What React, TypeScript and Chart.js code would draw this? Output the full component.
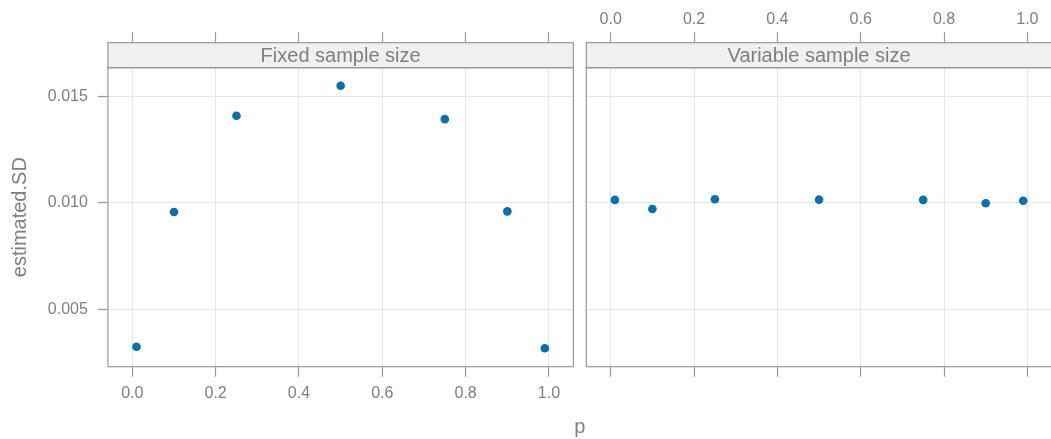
import React, { useEffect, useRef } from 'react';
import { Chart, registerables } from 'chart.js';

Chart.register(...registerables);

// ---- data ----
const pValues = [0.01, 0.1, 0.25, 0.5, 0.75, 0.9, 0.99];
const fixedSD = [0.00323, 0.00957, 0.0141, 0.01551, 0.01394, 0.0096, 0.00316];
const variableSD = [0.01014, 0.00971, 0.01017, 0.01015, 0.01014, 0.00998, 0.0101];
const panelTitles = ['Fixed sample size', 'Variable sample size'];
const xTickValues = [0, 0.2, 0.4, 0.6, 0.8, 1.0];
const yTickValues = [0.005, 0.01, 0.015];
const xTitle = 'p';
const yTitle = 'estimated.SD';

const X_MIN = -0.0586;
const X_MAX = 1.0586;
const Y_MIN = 0.00229;
const Y_MAX = 0.01636;

// ---- style ----
const FONT = "'Liberation Sans', Arial, Helvetica, sans-serif";
const TEXT = '#7f7f7f';
const LINE = '#999999';
const GRID = '#e6e6e6';
const STRIP = '#f0f0f0';
const DOT = '#0072B2';
const W = 1060;
const H = 439;
const STRIP_H = 25;

const TOP_H = 67.7;
const BOTTOM_H = 48.3;
const LEFT_W = 107.9;
const PANEL_W = 465.5;
const GAP_W = 12.9;

function xAxis(opts: {
  position: 'top' | 'bottom';
  weight: number;
  stackWeight: number;
  labels: boolean;
  onChart: boolean;
  tickLength: number;
  padding: number;
  height: number;
}) {
  return {
    type: 'linear',
    axis: 'x',
    position: opts.position,
    stack: opts.position === 'top' ? 'topStack' : 'bottomStack',
    stackWeight: opts.stackWeight,
    weight: opts.weight,
    min: X_MIN,
    max: X_MAX,
    bounds: 'data',
    afterBuildTicks: (s: any) => {
      s.ticks = xTickValues.map((v) => ({ value: v }));
    },
    afterFit: (s: any) => {
      s.height = opts.height;
    },
    grid: {
      display: true,
      drawOnChartArea: opts.onChart,
      drawTicks: true,
      color: GRID,
      lineWidth: 1,
      tickColor: LINE,
      tickWidth: 1.2,
      tickLength: opts.tickLength,
    },
    border: { display: false },
    ticks: {
      display: opts.labels,
      color: TEXT,
      padding: opts.padding,
      maxRotation: 0,
      autoSkip: false,
      font: { size: 16, family: FONT },
      callback: (v: any) => Number(v).toFixed(1),
    },
  };
}

function gapAxis(position: 'top' | 'bottom', weight: number, height: number) {
  return {
    type: 'linear',
    axis: 'x',
    position,
    stack: position === 'top' ? 'topStack' : 'bottomStack',
    stackWeight: GAP_W,
    weight,
    min: 0,
    max: 1,
    afterBuildTicks: (s: any) => {
      s.ticks = [];
    },
    afterFit: (s: any) => {
      s.height = height;
    },
    grid: { display: false },
    border: { display: false },
    ticks: { display: false },
  };
}

const panelPlugin = {
  id: 'latticePanels',
  beforeDatasetsDraw(chart: any) {
    const { ctx, chartArea } = chart;
    const { top, bottom } = chartArea;
    const gap = chart.scales.gb;
    ctx.save();
    ctx.fillStyle = '#ffffff';
    ctx.fillRect(gap.left, top - 1, gap.right - gap.left, bottom - top + 2);
    const panels = [chart.scales.x1b, chart.scales.x2b];
    panels.forEach((s: any, i: number) => {
      const l = s.left;
      const r = s.right;
      ctx.fillStyle = STRIP;
      ctx.fillRect(l, top - STRIP_H, r - l, STRIP_H);
      ctx.strokeStyle = LINE;
      ctx.lineWidth = 1.2;
      ctx.strokeRect(l, top - STRIP_H, r - l, STRIP_H);
      ctx.strokeRect(l, top, r - l, bottom - top);
      ctx.fillStyle = TEXT;
      ctx.font = `20px ${FONT}`;
      ctx.textAlign = 'center';
      ctx.textBaseline = 'middle';
      ctx.fillText(panelTitles[i], (l + r) / 2, top - STRIP_H / 2 + 1);
    });
    ctx.restore();
  },
};

export default function App() {
  const ref = useRef<HTMLCanvasElement | null>(null);

  useEffect(() => {
    if (!ref.current) return;
    const chart = new Chart(ref.current, {
      type: 'scatter',
      data: {
        datasets: [
          {
            label: panelTitles[0],
            data: pValues.map((p, i) => ({ x: p, y: fixedSD[i] })),
            xAxisID: 'x1b',
            yAxisID: 'y',
            backgroundColor: DOT,
            borderColor: DOT,
            borderWidth: 0,
            pointRadius: 4.3,
          },
          {
            label: panelTitles[1],
            data: pValues.map((p, i) => ({ x: p, y: variableSD[i] })),
            xAxisID: 'x2b',
            yAxisID: 'y',
            backgroundColor: DOT,
            borderColor: DOT,
            borderWidth: 0,
            pointRadius: 4.3,
          },
        ],
      },
      plugins: [panelPlugin],
      options: {
        responsive: false,
        animation: false,
        devicePixelRatio: 1,
        layout: { padding: { left: 0, top: 0, right: W - (LEFT_W + 2 * PANEL_W + GAP_W), bottom: 0 } },
        plugins: {
          legend: { display: false },
          tooltip: { enabled: false },
          title: {
            display: true,
            text: xTitle,
            position: 'bottom',
            fullSize: false,
            color: TEXT,
            font: { size: 20, family: FONT, weight: 'normal' },
            padding: { top: 0, bottom: 0 },
          },
        },
        scales: {
          x1b: xAxis({ position: 'bottom', weight: 1, stackWeight: PANEL_W, labels: true, onChart: true, tickLength: 10, padding: 7.5, height: BOTTOM_H }),
          gb: gapAxis('bottom', 2, BOTTOM_H),
          x2b: xAxis({ position: 'bottom', weight: 3, stackWeight: PANEL_W, labels: false, onChart: true, tickLength: 10, padding: 7.5, height: BOTTOM_H }),
          x1t: xAxis({ position: 'top', weight: 3, stackWeight: PANEL_W, labels: false, onChart: false, tickLength: 35.4, padding: 3.5, height: TOP_H }),
          gt: gapAxis('top', 2, TOP_H),
          x2t: xAxis({ position: 'top', weight: 1, stackWeight: PANEL_W, labels: true, onChart: false, tickLength: 35.4, padding: 3.5, height: TOP_H }),
          y: {
            type: 'linear',
            position: 'left',
            min: Y_MIN,
            max: Y_MAX,
            bounds: 'data',
            afterBuildTicks: (s: any) => {
              s.ticks = yTickValues.map((v) => ({ value: v }));
            },
            afterFit: (s: any) => {
              s.width = LEFT_W;
            },
            grid: {
              display: true,
              drawOnChartArea: true,
              drawTicks: true,
              color: GRID,
              lineWidth: 1,
              tickColor: LINE,
              tickWidth: 1.2,
              tickLength: 10,
            },
            border: { display: false },
            ticks: {
              color: TEXT,
              padding: 10,
              font: { size: 16, family: FONT },
              callback: (v: any) => Number(v).toFixed(3),
            },
            title: {
              display: true,
              text: yTitle,
              color: TEXT,
              font: { size: 20, family: FONT },
              padding: { top: 8, bottom: 0 },
            },
          },
        },
      } as any,
    } as any);
    return () => chart.destroy();
  }, []);

  return (
    <div
      style={{
        position: 'absolute',
        left: 0,
        top: 0,
        width: 1051,
        height: H,
        overflow: 'hidden',
        background: '#ffffff',
      }}
    >
      <canvas ref={ref} width={W} height={H} style={{ width: W, height: H, display: 'block' }} />
    </div>
  );
}
